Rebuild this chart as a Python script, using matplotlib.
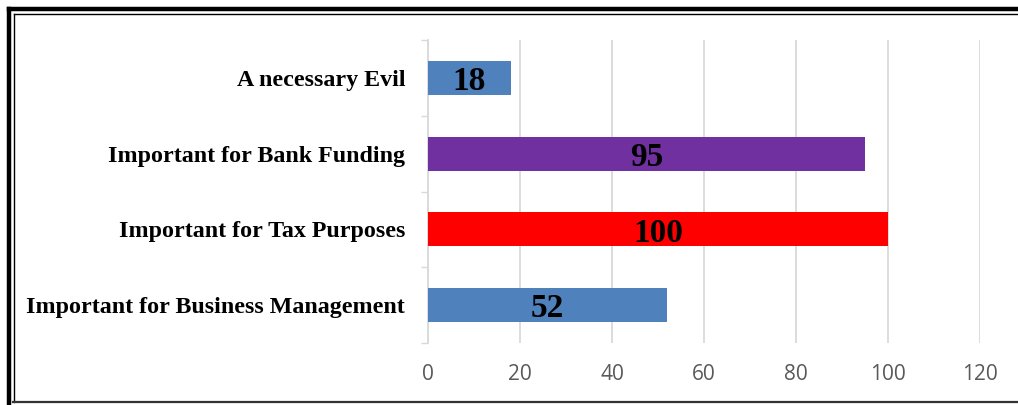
import matplotlib
matplotlib.use("Agg")
import matplotlib.pyplot as plt
from matplotlib.lines import Line2D

categories = ["Important for Business Management", "Important for Tax Purposes",
              "Important for Bank Funding", "A necessary Evil"]
values = [52, 100, 95, 18]
colors = ["#4F81BD", "#FF0000", "#7030A0", "#4F81BD"]
xticks = [0, 20, 40, 60, 80, 100, 120]

W, H = 1018, 405
fig = plt.figure(figsize=(W / 100, H / 100), dpi=100)
ax = fig.add_axes([428 / W, 1 - 343 / H, (980 - 428) / W, (343 - 40) / H])

y = list(range(len(categories)))
ax.barh(y, values, height=0.45, color=colors, zorder=3)
ax.set_xlim(0, 120)
ax.set_ylim(-0.5, len(categories) - 0.5)
ax.set_xticks(xticks)
ax.set_xticklabels([str(t) for t in xticks], fontsize=15, color="#595959", family="Open Sans")
ax.tick_params(axis="x", length=0, pad=15)
ax.set_yticks(y)
ax.set_yticklabels(categories, fontsize=17.3, fontweight="bold", family="Liberation Serif",
                   va="center_baseline")
ax.tick_params(axis="y", length=0, pad=16.5)
ax.set_yticks([i - 0.5 for i in range(len(categories) + 1)], minor=True)
ax.tick_params(axis="y", which="minor", length=5, color="#D9D9D9", width=1)
ax.grid(axis="x", color="#D9D9D9", linewidth=1.3, zorder=0)
for s in ["top", "right", "bottom"]:
    ax.spines[s].set_visible(False)
ax.spines["left"].set_color("#D9D9D9")
ax.spines["left"].set_linewidth(1.3)

for yi, v in zip(y, values):
    ax.text(v / 2, yi - 0.05, str(v), ha="center", va="center", fontsize=24,
            fontweight="bold", family="Liberation Serif", color="black", zorder=4)

def fx(px):
    return px / W

def fy(py):
    return 1 - py / H

# outer thick border
fig.add_artist(Line2D([fx(9), fx(9)], [fy(405), fy(9)], color="black", linewidth=3.2))
fig.add_artist(Line2D([fx(9), fx(1018)], [fy(9), fy(9)], color="black", linewidth=3.2))
# inner thin border
fig.add_artist(Line2D([fx(13.5), fx(13.5)], [fy(402), fy(14)], color="black", linewidth=1.0))
fig.add_artist(Line2D([fx(13.5), fx(1018)], [fy(14), fy(14)], color="black", linewidth=1.0))
# bottom line
fig.add_artist(Line2D([fx(13), fx(1018)], [fy(402), fy(402)], color="#333333", linewidth=1.6))

fig.savefig("out.png", dpi=100)
